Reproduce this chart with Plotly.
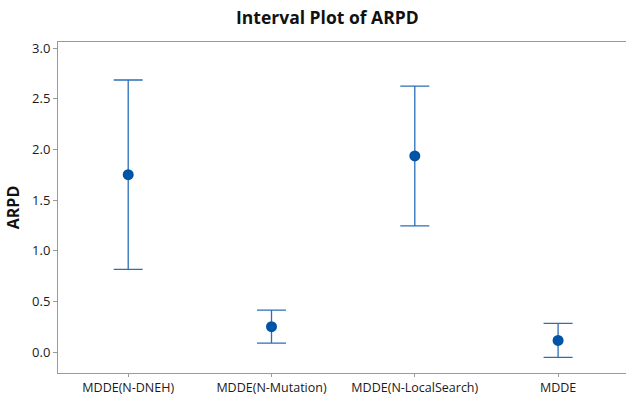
import plotly.graph_objects as go

# Interval plot data: mean ARPD and half-width of the interval per method
methods = ["MDDE(N-DNEH)", "MDDE(N-Mutation)", "MDDE(N-LocalSearch)", "MDDE"]
means = [1.75, 0.25, 1.935, 0.115]
half_widths = [0.935, 0.163, 0.69, 0.168]
y_ticks = [0.0, 0.5, 1.0, 1.5, 2.0, 2.5, 3.0]

FONT = "Open Sans"
AXIS_GREY = "#9a9a9a"

fig = go.Figure()
fig.add_trace(go.Scatter(
    x=list(range(len(methods))),
    y=means,
    mode="markers",
    marker=dict(color="#0054a6", size=11, line=dict(width=0)),
    error_y=dict(
        type="data",
        array=half_widths,
        symmetric=True,
        color="#2a6fb8",
        thickness=1.3,
        width=14.5,
    ),
    showlegend=False,
))

fig.update_layout(
    width=626,
    height=396,
    margin=dict(l=58, r=0, t=42, b=23),
    plot_bgcolor="white",
    paper_bgcolor="white",
    font=dict(family=FONT, size=13, color="#1a1a1a"),
    annotations=[dict(
        text="<b>Interval Plot of ARPD</b>",
        xref="paper", yref="paper",
        x=0.4736, y=1.0, yshift=25,
        xanchor="center", yanchor="middle",
        showarrow=False,
        font=dict(family=FONT, size=17.5, color="#111111"),
    )],
)

fig.update_xaxes(
    range=[-0.49, 3.474],
    tickmode="array",
    tickvals=list(range(len(methods))),
    ticktext=methods,
    ticks="outside",
    ticklen=3,
    tickcolor=AXIS_GREY,
    showline=True,
    linecolor=AXIS_GREY,
    linewidth=1,
    mirror=True,
    showgrid=False,
    zeroline=False,
    automargin=False,
    tickfont=dict(family=FONT, size=12.5, color="#1a1a1a"),
)

fig.update_yaxes(
    range=[-0.207, 3.06],
    tickmode="array",
    tickvals=y_ticks,
    ticktext=[f"{v:.1f}" for v in y_ticks],
    ticks="outside",
    ticklen=4,
    tickcolor=AXIS_GREY,
    showline=True,
    linecolor=AXIS_GREY,
    linewidth=1,
    mirror=False,
    showgrid=False,
    zeroline=False,
    automargin=False,
    tickfont=dict(family=FONT, size=13, color="#1a1a1a"),
    title=dict(text="<b>ARPD</b>", font=dict(family=FONT, size=16, color="#111111"), standoff=8),
)

fig.write_html("out.html")
